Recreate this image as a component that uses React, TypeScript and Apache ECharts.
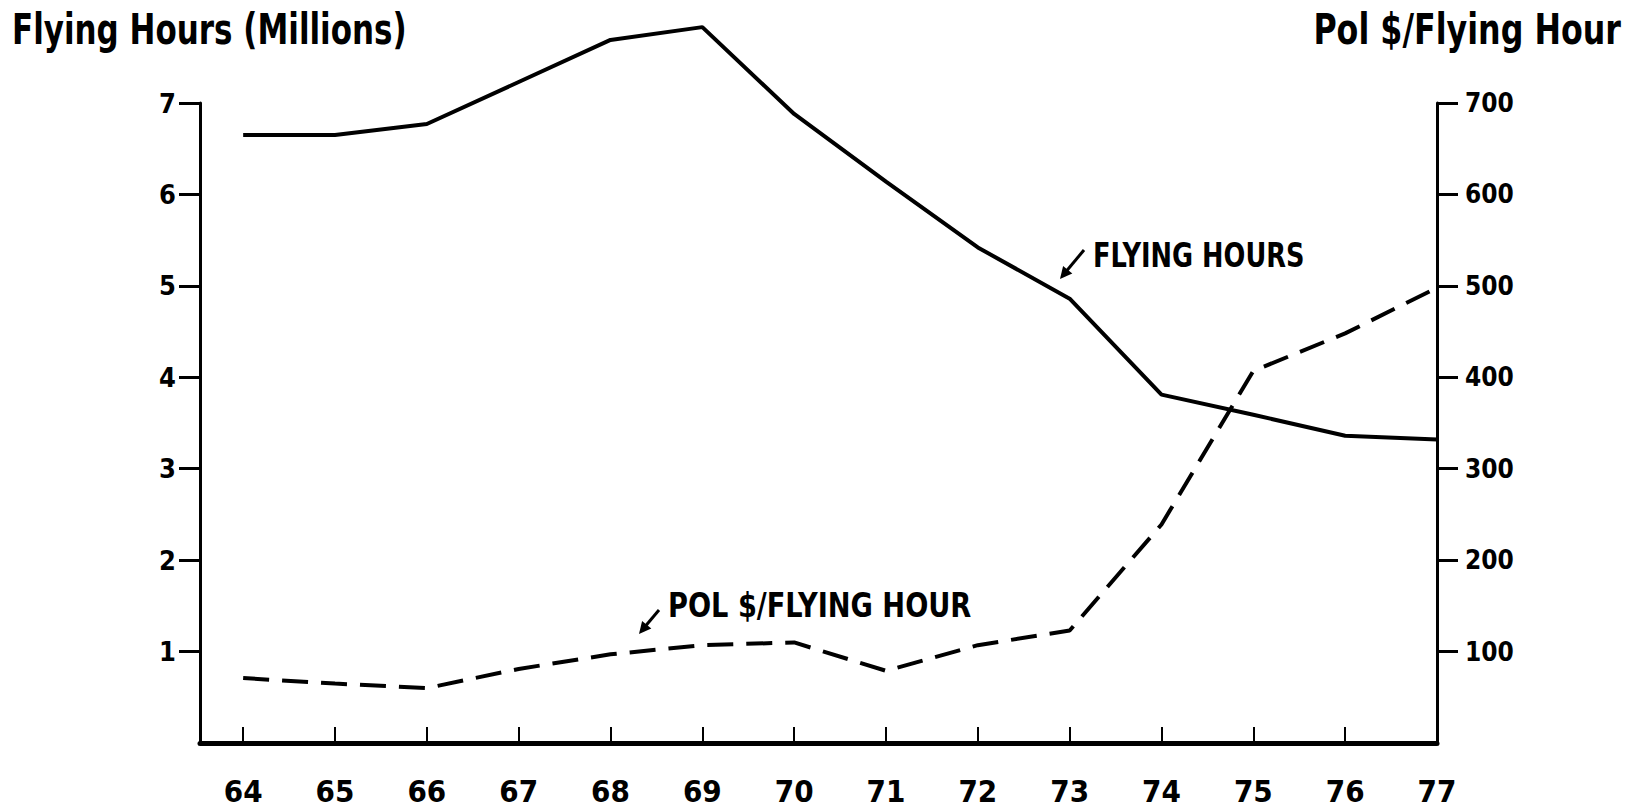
import React, { useEffect, useRef } from "react";
import * as echarts from "echarts";

const years = [64, 65, 66, 67, 68, 69, 70, 71, 72, 73, 74, 75, 76, 77];
const flyingHours = [6.65, 6.65, 6.77, 7.23, 7.69, 7.83, 6.88, 6.14, 5.42, 4.86, 3.81, 3.59, 3.36, 3.32];
const polPerHour = [71, 65, 60, 81, 97, 107, 110, 79, 107, 123, 239, 407, 448, 498];
const leftTicks = [1, 2, 3, 4, 5, 6, 7];
const rightTicks = [100, 200, 300, 400, 500, 600, 700];

const FONT = "'DejaVu Sans Condensed', 'DejaVu Sans', sans-serif";

export default function App() {
  const ref = useRef<HTMLDivElement>(null);
  useEffect(() => {
    if (!ref.current) return;
    const chart = echarts.init(ref.current, undefined, { renderer: "svg" });
    const fh = years.map((y, i) => [y, flyingHours[i]]);
    const pol = years.map((y, i) => [y, polPerHour[i]]);
    const txt = (text: string, size: number, align: string) => ({
      text,
      fontFamily: FONT,
      fontWeight: "bold",
      fontSize: size,
      fill: "#000",
      textAlign: align,
      textVerticalAlign: "top",
    });
    chart.setOption({
      animation: false,
      backgroundColor: "#ffffff",
      grid: { left: 200, right: 198, top: 103, bottom: 65, containLabel: false },
      xAxis: {
        type: "value",
        min: 63.53,
        max: 77,
        splitLine: { show: false },
        axisLine: { show: true, lineStyle: { color: "#000", width: 5 } },
        axisTick: {
          show: true,
          inside: true,
          length: 16,
          customValues: years.slice(0, years.length - 1),
          lineStyle: { color: "#000", width: 2 },
        },
        axisLabel: {
          customValues: years,
          margin: 32,
          fontFamily: FONT,
          fontWeight: "bold",
          fontSize: 31,
          color: "#000",
        },
      },
      yAxis: [
        {
          type: "value",
          min: 0,
          max: 7,
          interval: 1,
          position: "left",
          splitLine: { show: false },
          axisLine: { show: true, lineStyle: { color: "#000", width: 3 } },
          axisTick: {
            show: true,
            length: 21,
            customValues: leftTicks,
            lineStyle: { color: "#000", width: 3 },
          },
          axisLabel: {
            customValues: leftTicks,
            margin: 24,
            fontFamily: FONT,
            fontWeight: "bold",
            fontSize: 27,
            color: "#000",
          },
        },
        {
          type: "value",
          min: 0,
          max: 700,
          interval: 100,
          position: "right",
          splitLine: { show: false },
          axisLine: { show: true, lineStyle: { color: "#000", width: 3 } },
          axisTick: {
            show: true,
            length: 21,
            customValues: rightTicks,
            lineStyle: { color: "#000", width: 3 },
          },
          axisLabel: {
            customValues: rightTicks,
            margin: 28,
            fontFamily: FONT,
            fontWeight: "bold",
            fontSize: 26,
            color: "#000",
          },
        },
      ],
      series: [
        {
          name: "FLYING HOURS",
          type: "line",
          data: fh,
          yAxisIndex: 0,
          showSymbol: false,
          symbol: "none",
          clip: false,
          lineStyle: { color: "#000", width: 4 },
        },
        {
          name: "POL $/FLYING HOUR",
          type: "line",
          data: pol,
          yAxisIndex: 1,
          showSymbol: false,
          symbol: "none",
          clip: false,
          lineStyle: { color: "#000", width: 4, type: [26, 13] },
        },
      ],
      graphic: [
        {
          type: "text",
          x: 12,
          y: 8,
          scaleX: 0.82,
          style: txt("Flying Hours (Millions)", 42, "left"),
        },
        {
          type: "text",
          x: 1621,
          y: 8,
          scaleX: 0.84,
          style: txt("Pol $/Flying Hour", 42, "right"),
        },
        {
          type: "text",
          x: 1093,
          y: 238,
          scaleX: 0.84,
          style: txt("FLYING HOURS", 34, "left"),
        },
        {
          type: "line",
          shape: { x1: 1084, y1: 250, x2: 1064, y2: 274 },
          style: { stroke: "#000", lineWidth: 3 },
        },
        {
          type: "polygon",
          shape: { points: [[1060, 279], [1072.3, 273.5], [1063.1, 265.9]] },
          style: { fill: "#000" },
        },
        {
          type: "text",
          x: 668,
          y: 588,
          scaleX: 0.89,
          style: txt("POL $/FLYING HOUR", 34, "left"),
        },
        {
          type: "line",
          shape: { x1: 659, y1: 610, x2: 643, y2: 629 },
          style: { stroke: "#000", lineWidth: 3 },
        },
        {
          type: "polygon",
          shape: { points: [[639, 634], [651.3, 628.6], [642.1, 621.0]] },
          style: { fill: "#000" },
        },
      ],
    });
    return () => chart.dispose();
  }, []);
  return (
    <div
      ref={ref}
      style={{ position: "absolute", left: 0, top: 0, width: 1635, height: 808 }}
    />
  );
}
